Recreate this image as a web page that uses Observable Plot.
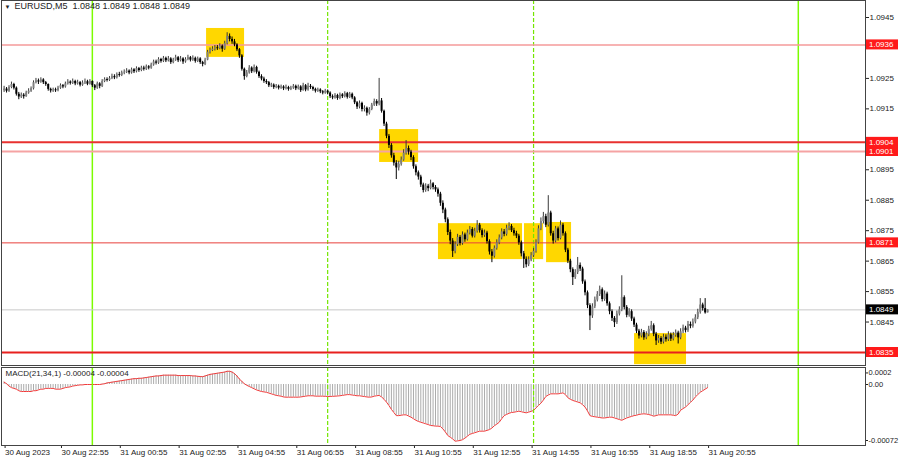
<!DOCTYPE html>
<html><head><meta charset="utf-8">
<script src="https://cdn.jsdelivr.net/npm/d3@7"></script>
<script src="https://cdn.jsdelivr.net/npm/@observablehq/plot@0.6"></script>
<style>
html,body{margin:0;padding:0;background:#fff;overflow:hidden;}
#wrap{position:relative;width:900px;height:460px;}
#main{position:absolute;left:0;top:0;}
#macd{position:absolute;left:0;top:366px;}
svg{display:block}
</style></head><body><div id="wrap"><div id="main"></div><div id="macd"></div></div>
<script>
// EURUSD M5 candles, 30 Aug 21:00 .. 31 Aug 20:55 : [open, high, low, close]
const ohlc = [
[1.09210,1.09224,1.09204,1.09215],[1.09215,1.09220,1.09202,1.09208],[1.09208,1.09226,1.09204,1.09220],[1.09220,1.09238,1.09216,1.09230],[1.09230,1.09234,1.09212,1.09218],
[1.09218,1.09222,1.09192,1.09198],[1.09198,1.09204,1.09180,1.09189],[1.09189,1.09202,1.09184,1.09195],[1.09195,1.09200,1.09182,1.09190],[1.09190,1.09208,1.09188,1.09202],
[1.09202,1.09216,1.09198,1.09208],[1.09208,1.09222,1.09204,1.09216],[1.09216,1.09242,1.09212,1.09236],[1.09236,1.09250,1.09232,1.09242],[1.09242,1.09248,1.09230,1.09238],
[1.09238,1.09252,1.09234,1.09245],[1.09245,1.09249,1.09230,1.09236],[1.09236,1.09240,1.09224,1.09230],[1.09230,1.09232,1.09208,1.09214],[1.09214,1.09218,1.09202,1.09209],
[1.09209,1.09218,1.09204,1.09212],[1.09212,1.09218,1.09204,1.09210],[1.09210,1.09224,1.09206,1.09218],[1.09218,1.09232,1.09214,1.09226],[1.09226,1.09230,1.09216,1.09222],
[1.09222,1.09238,1.09218,1.09232],[1.09232,1.09246,1.09228,1.09238],[1.09238,1.09242,1.09228,1.09234],[1.09234,1.09248,1.09230,1.09240],[1.09240,1.09244,1.09226,1.09232],
[1.09232,1.09244,1.09228,1.09236],[1.09236,1.09240,1.09222,1.09228],[1.09228,1.09242,1.09224,1.09235],[1.09235,1.09248,1.09230,1.09239],[1.09239,1.09244,1.09226,1.09231],
[1.09231,1.09246,1.09228,1.09240],[1.09240,1.09242,1.09220,1.09226],[1.09226,1.09230,1.09210,1.09218],[1.09218,1.09238,1.09214,1.09232],[1.09232,1.09236,1.09216,1.09224],
[1.09224,1.09246,1.09220,1.09240],[1.09240,1.09252,1.09236,1.09246],[1.09246,1.09252,1.09238,1.09244],[1.09244,1.09256,1.09240,1.09250],[1.09250,1.09264,1.09246,1.09256],
[1.09256,1.09262,1.09246,1.09252],[1.09252,1.09268,1.09248,1.09262],[1.09262,1.09270,1.09254,1.09260],[1.09260,1.09274,1.09256,1.09268],[1.09268,1.09278,1.09262,1.09270],
[1.09270,1.09282,1.09266,1.09274],[1.09274,1.09278,1.09262,1.09268],[1.09268,1.09284,1.09264,1.09278],[1.09278,1.09282,1.09266,1.09272],[1.09272,1.09288,1.09268,1.09282],
[1.09282,1.09286,1.09270,1.09276],[1.09276,1.09290,1.09272,1.09284],[1.09284,1.09290,1.09274,1.09280],[1.09280,1.09294,1.09276,1.09288],[1.09288,1.09292,1.09278,1.09284],
[1.09284,1.09300,1.09280,1.09294],[1.09294,1.09310,1.09290,1.09304],[1.09304,1.09310,1.09294,1.09300],[1.09300,1.09318,1.09296,1.09312],[1.09312,1.09316,1.09300,1.09306],
[1.09306,1.09322,1.09302,1.09316],[1.09316,1.09320,1.09302,1.09308],[1.09308,1.09322,1.09304,1.09314],[1.09314,1.09318,1.09296,1.09302],[1.09302,1.09316,1.09298,1.09310],
[1.09310,1.09326,1.09306,1.09318],[1.09318,1.09322,1.09302,1.09308],[1.09308,1.09322,1.09304,1.09314],[1.09314,1.09318,1.09296,1.09304],[1.09304,1.09318,1.09300,1.09312],
[1.09312,1.09326,1.09308,1.09318],[1.09318,1.09322,1.09304,1.09310],[1.09310,1.09324,1.09306,1.09316],[1.09316,1.09320,1.09300,1.09306],[1.09306,1.09320,1.09302,1.09314],
[1.09314,1.09318,1.09296,1.09302],[1.09302,1.09306,1.09288,1.09296],[1.09296,1.09316,1.09292,1.09310],[1.09310,1.09342,1.09308,1.09336],[1.09336,1.09350,1.09330,1.09342],
[1.09342,1.09354,1.09338,1.09346],[1.09346,1.09358,1.09340,1.09350],[1.09350,1.09358,1.09342,1.09348],[1.09348,1.09364,1.09344,1.09356],[1.09356,1.09360,1.09336,1.09346],
[1.09346,1.09372,1.09342,1.09364],[1.09364,1.09400,1.09360,1.09388],[1.09388,1.09396,1.09370,1.09378],[1.09378,1.09386,1.09362,1.09370],[1.09370,1.09378,1.09354,1.09360],
[1.09360,1.09364,1.09338,1.09344],[1.09344,1.09348,1.09316,1.09324],[1.09324,1.09328,1.09274,1.09280],[1.09280,1.09284,1.09244,1.09256],[1.09256,1.09276,1.09252,1.09268],
[1.09268,1.09292,1.09264,1.09284],[1.09284,1.09288,1.09266,1.09272],[1.09272,1.09294,1.09268,1.09286],[1.09286,1.09290,1.09264,1.09270],[1.09270,1.09274,1.09250,1.09256],
[1.09256,1.09262,1.09242,1.09248],[1.09248,1.09254,1.09234,1.09240],[1.09240,1.09246,1.09230,1.09236],[1.09236,1.09240,1.09220,1.09226],[1.09226,1.09234,1.09220,1.09228],
[1.09228,1.09232,1.09214,1.09220],[1.09220,1.09230,1.09216,1.09224],[1.09224,1.09228,1.09212,1.09218],[1.09218,1.09228,1.09214,1.09222],[1.09222,1.09226,1.09210,1.09216],
[1.09216,1.09228,1.09212,1.09220],[1.09220,1.09224,1.09208,1.09214],[1.09214,1.09224,1.09210,1.09218],[1.09218,1.09230,1.09214,1.09224],[1.09224,1.09228,1.09210,1.09216],
[1.09216,1.09228,1.09212,1.09222],[1.09222,1.09226,1.09204,1.09210],[1.09210,1.09234,1.09208,1.09226],[1.09226,1.09230,1.09206,1.09212],[1.09212,1.09234,1.09208,1.09224],
[1.09224,1.09230,1.09214,1.09220],[1.09220,1.09224,1.09208,1.09214],[1.09214,1.09218,1.09202,1.09208],[1.09208,1.09218,1.09204,1.09212],[1.09212,1.09216,1.09200,1.09206],
[1.09206,1.09210,1.09196,1.09202],[1.09202,1.09214,1.09198,1.09208],[1.09208,1.09212,1.09196,1.09202],[1.09202,1.09206,1.09184,1.09190],[1.09190,1.09196,1.09180,1.09186],
[1.09186,1.09200,1.09182,1.09194],[1.09194,1.09198,1.09178,1.09184],[1.09184,1.09202,1.09180,1.09196],[1.09196,1.09200,1.09184,1.09190],[1.09190,1.09206,1.09186,1.09200],
[1.09200,1.09204,1.09182,1.09188],[1.09188,1.09204,1.09184,1.09198],[1.09198,1.09202,1.09180,1.09186],[1.09186,1.09190,1.09164,1.09170],[1.09170,1.09174,1.09148,1.09156],
[1.09156,1.09176,1.09150,1.09168],[1.09168,1.09172,1.09140,1.09148],[1.09148,1.09160,1.09140,1.09152],[1.09152,1.09156,1.09126,1.09136],[1.09136,1.09154,1.09130,1.09148],
[1.09148,1.09168,1.09144,1.09162],[1.09162,1.09182,1.09158,1.09174],[1.09174,1.09180,1.09158,1.09166],[1.09166,1.09250,1.09160,1.09176],[1.09176,1.09184,1.09136,1.09142],
[1.09142,1.09146,1.09092,1.09100],[1.09100,1.09106,1.09052,1.09060],[1.09060,1.09066,1.09020,1.09030],[1.09030,1.09036,1.08988,1.08996],[1.08996,1.09004,1.08962,1.08972],
[1.08972,1.08980,1.08918,1.08956],[1.08956,1.08978,1.08946,1.08968],[1.08968,1.08992,1.08962,1.08982],[1.08982,1.09016,1.08978,1.09004],[1.09004,1.09046,1.08998,1.09020],
[1.09020,1.09028,1.08998,1.09008],[1.09008,1.09014,1.08980,1.08990],[1.08990,1.08996,1.08952,1.08960],[1.08960,1.08966,1.08930,1.08940],[1.08940,1.08946,1.08916,1.08926],
[1.08926,1.08932,1.08892,1.08900],[1.08900,1.08906,1.08874,1.08882],[1.08882,1.08904,1.08876,1.08896],[1.08896,1.08902,1.08878,1.08888],[1.08888,1.08916,1.08884,1.08904],
[1.08904,1.08908,1.08884,1.08892],[1.08892,1.08898,1.08876,1.08884],[1.08884,1.08890,1.08860,1.08870],[1.08870,1.08876,1.08830,1.08840],[1.08840,1.08848,1.08806,1.08818],
[1.08818,1.08824,1.08776,1.08786],[1.08786,1.08792,1.08734,1.08744],[1.08744,1.08752,1.08704,1.08716],[1.08716,1.08724,1.08662,1.08682],[1.08682,1.08714,1.08674,1.08704],
[1.08704,1.08738,1.08698,1.08728],[1.08728,1.08734,1.08700,1.08708],[1.08708,1.08746,1.08702,1.08736],[1.08736,1.08742,1.08712,1.08720],[1.08720,1.08752,1.08716,1.08742],
[1.08742,1.08764,1.08736,1.08754],[1.08754,1.08760,1.08726,1.08732],[1.08732,1.08758,1.08726,1.08748],[1.08748,1.08783,1.08742,1.08768],[1.08768,1.08774,1.08742,1.08750],
[1.08750,1.08756,1.08726,1.08734],[1.08734,1.08752,1.08728,1.08742],[1.08742,1.08748,1.08706,1.08714],[1.08714,1.08720,1.08670,1.08680],[1.08680,1.08688,1.08645,1.08666],
[1.08666,1.08700,1.08660,1.08692],[1.08692,1.08720,1.08686,1.08710],[1.08710,1.08736,1.08704,1.08726],[1.08726,1.08756,1.08720,1.08746],[1.08746,1.08754,1.08730,1.08738],
[1.08738,1.08768,1.08732,1.08758],[1.08758,1.08776,1.08750,1.08764],[1.08764,1.08770,1.08744,1.08750],[1.08750,1.08758,1.08732,1.08740],[1.08740,1.08748,1.08724,1.08732],
[1.08732,1.08738,1.08702,1.08710],[1.08710,1.08716,1.08664,1.08674],[1.08674,1.08682,1.08626,1.08656],[1.08656,1.08664,1.08628,1.08638],[1.08638,1.08664,1.08632,1.08654],
[1.08654,1.08678,1.08648,1.08668],[1.08668,1.08692,1.08662,1.08682],[1.08682,1.08720,1.08676,1.08710],[1.08710,1.08766,1.08706,1.08756],[1.08756,1.08792,1.08750,1.08780],
[1.08780,1.08810,1.08772,1.08796],[1.08796,1.08804,1.08760,1.08768],[1.08768,1.08865,1.08762,1.08808],[1.08808,1.08814,1.08732,1.08740],[1.08740,1.08748,1.08706,1.08716],
[1.08716,1.08764,1.08710,1.08756],[1.08756,1.08762,1.08716,1.08724],[1.08724,1.08782,1.08720,1.08768],[1.08768,1.08774,1.08732,1.08740],[1.08740,1.08746,1.08678,1.08686],
[1.08686,1.08692,1.08642,1.08650],[1.08650,1.08656,1.08612,1.08622],[1.08622,1.08628,1.08570,1.08596],[1.08596,1.08622,1.08590,1.08612],[1.08612,1.08662,1.08606,1.08636],
[1.08636,1.08644,1.08616,1.08624],[1.08624,1.08630,1.08574,1.08582],[1.08582,1.08588,1.08536,1.08546],[1.08546,1.08552,1.08494,1.08504],[1.08504,1.08510,1.08422,1.08470],
[1.08470,1.08510,1.08462,1.08500],[1.08500,1.08532,1.08494,1.08522],[1.08522,1.08550,1.08516,1.08540],[1.08540,1.08568,1.08534,1.08556],[1.08556,1.08562,1.08516,1.08524],
[1.08524,1.08552,1.08518,1.08542],[1.08542,1.08548,1.08502,1.08510],[1.08510,1.08516,1.08474,1.08484],[1.08484,1.08490,1.08452,1.08462],[1.08462,1.08468,1.08432,1.08448],
[1.08448,1.08486,1.08442,1.08476],[1.08476,1.08500,1.08470,1.08490],[1.08490,1.08602,1.08484,1.08530],[1.08530,1.08536,1.08490,1.08498],[1.08498,1.08504,1.08464,1.08472],
[1.08472,1.08494,1.08466,1.08484],[1.08484,1.08490,1.08452,1.08460],[1.08460,1.08466,1.08432,1.08440],[1.08440,1.08446,1.08412,1.08420],[1.08420,1.08426,1.08394,1.08404],
[1.08404,1.08426,1.08398,1.08416],[1.08416,1.08422,1.08390,1.08398],[1.08398,1.08418,1.08392,1.08408],[1.08408,1.08436,1.08402,1.08426],[1.08426,1.08452,1.08420,1.08438],
[1.08438,1.08444,1.08402,1.08410],[1.08410,1.08416,1.08373,1.08388],[1.08388,1.08406,1.08380,1.08396],[1.08396,1.08402,1.08376,1.08384],[1.08384,1.08410,1.08378,1.08400],
[1.08400,1.08408,1.08384,1.08392],[1.08392,1.08418,1.08386,1.08408],[1.08408,1.08414,1.08386,1.08394],[1.08394,1.08416,1.08388,1.08406],[1.08406,1.08424,1.08400,1.08414],
[1.08414,1.08420,1.08378,1.08398],[1.08398,1.08428,1.08392,1.08418],[1.08418,1.08440,1.08412,1.08430],[1.08430,1.08436,1.08414,1.08422],[1.08422,1.08452,1.08416,1.08442],
[1.08442,1.08450,1.08428,1.08436],[1.08436,1.08460,1.08430,1.08450],[1.08450,1.08474,1.08444,1.08464],[1.08464,1.08492,1.08458,1.08482],[1.08482,1.08527,1.08476,1.08506],
[1.08506,1.08512,1.08486,1.08494],[1.08494,1.08527,1.08476,1.08480],[1.08480,1.08490,1.08480,1.08490]
];

// MACD(21,34,1) per bar, in units of 0.00001
const macdPoints = [
3,1,-2,-4,-5,-6,-8,-9,-9,-9,
-9,-9,-8,-8,-7,-6,-6,-5,-5,-5,
-5,-6,-6,-6,-5,-4,-3.5,-3,-2,-1.5,
-1,-0.5,-0.5,0,0,0,0,0,0,0,
0.5,1,2,2.5,3,3.5,4,4.5,5,5.5,
6,6.5,7,7.5,7.5,8,8,8.5,9,9.5,
10,10.5,11,11,11.5,12,12,12,12,12,
12,11.5,11.5,11.5,11.5,11.5,11.5,11,11,10.5,
10.3,10,11,12,13,13.5,14,14.5,15,15.5,
16,17,17,16,14,11,7,4,1,-1,
-2.5,-4,-5.5,-7,-8,-9,-9.5,-10,-11,-12,
-13,-14,-14.5,-15,-16,-16.3,-16.3,-16.3,-16.3,-16.3,
-16.3,-16,-15.5,-15,-14.5,-14.5,-14.5,-15,-15,-15,
-15,-15.2,-15.4,-15.4,-15.2,-15,-14.8,-14.5,-14,-13.5,
-13,-13,-13.5,-14,-14.5,-14.5,-15,-15.5,-16,-16.3,
-16,-15,-14.5,-14,-16,-19,-22.7,-27,-32,-36,
-40,-40,-39.5,-39,-39,-40.5,-42,-44,-46,-47.5,
-48.5,-49.5,-50.5,-51.5,-52.7,-53,-53.5,-53.5,-54,-57,
-61,-65.6,-67.7,-70,-72.9,-72.5,-72,-71,-69,-66.5,
-64,-63,-62,-61,-60,-60,-60,-59,-58,-56,
-53,-51,-48.5,-44,-40,-38.5,-37,-36,-35.6,-35,
-34.3,-35,-35.8,-36.4,-35.5,-34.5,-33.4,-30,-27,-24,
-20,-15.4,-13.5,-12,-12,-12,-12,-11.5,-10.7,-13,
-17,-19,-20.5,-21.5,-22.5,-23.5,-26,-29,-34,-40,
-41,-41.5,-42,-42.5,-43,-43,-42.5,-42,-42,-43,
-44,-45,-46,-44.5,-43,-42,-41,-40,-39.5,-38.5,
-38,-37.7,-38,-38.6,-39.5,-40.7,-40,-39,-39,-39,
-39,-39,-39,-39.5,-40,-38,-33,-31,-29,-26,
-23,-20,-16,-13,-10,-8,-6,-4
];
const macdUnit = 0.00001;

// horizontal levels
const levelPrices = [1.0936, 1.0904, 1.0901, 1.0871, 1.0849, 1.0835];
const levelLine   = ["#f59a9a", "#e8312f", "#f5a3a3", "#e8403c", "#c8c8c8", "#e8201e"];
const levelWidth  = [1.5, 2, 2, 1, 1, 2];
const levelBox    = ["#ff1a1a", "#ff1a1a", "#ff1a1a", "#ff1a1a", "#000000", "#ff1a1a"];

// highlight rectangles (bar index from/to, price from/to)
const boxBarFrom = [82.6, 153.2, 177.2, 212.3, 221.3, 257.2];
const boxBarTo   = [98.1, 169.1, 211.5, 220.1, 231.5, 278.4];
const boxLow     = [1.09319, 1.08974, 1.08655, 1.08655, 1.08645, 1.08310];
const boxHigh    = [1.09414, 1.09082, 1.08773, 1.08773, 1.08777, 1.08412];

// vertical session lines (bar index), solid = day separators
const solidLines  = [36, 324];
const dashedLines = [132, 216];

// axis ticks (1.0935 / 1.0905 / 1.0835 sit under the level labels)
const priceTicks = [1.0945, 1.0925, 1.0915, 1.0895, 1.0885, 1.0875, 1.0865, 1.0855, 1.0845];
const timeTickBars = [0, 23, 47, 71, 95, 119, 143, 167, 191, 215, 239, 263, 287];
const timeTickLabels = ["30 Aug 2023", "30 Aug 22:55", "31 Aug 00:55", "31 Aug 02:55", "31 Aug 04:55", "31 Aug 06:55",
  "31 Aug 08:55", "31 Aug 10:55", "31 Aug 12:55", "31 Aug 14:55", "31 Aug 16:55", "31 Aug 18:55", "31 Aug 20:55"];
const macdTicks = [0, -0.00072];
const macdTickLabels = ["0.00", "-0.00072"];
const macdTopTick = 0.0002;

const symbolName = "EURUSD,M5";
const macdTitle = "MACD(21,34,1) -0.00004 -0.00004";

// ---------- build tables ----------
const bars = ohlc.map((d, i) => ({i, o: d[0], h: d[1], l: d[2], c: d[3], up: d[3] >= d[0]}));
const doji = 0.000015;
bars.forEach(b => {
  b.b1 = Math.min(b.o, b.c); b.b2 = Math.max(b.o, b.c);
  if (b.b2 - b.b1 < 2 * doji) { const m = (b.b1 + b.b2) / 2; b.b1 = m - doji; b.b2 = m + doji; }
});
const levels = levelPrices.map((p, k) => ({p, line: levelLine[k], w: levelWidth[k], box: levelBox[k]}));
const boxes = boxBarFrom.map((x1, k) => ({x1, x2: boxBarTo[k], y1: boxLow[k], y2: boxHigh[k]}));
const macd = macdPoints.map((v, i) => ({i, v: v * macdUnit}));
const last = ohlc[ohlc.length - 1];
const title = `${symbolName}  ${last.map(v => v.toFixed(4)).join(" ")}`;
const tickLabelOf = new Map(timeTickBars.map((b, k) => [b, timeTickLabels[k]]));

const FONT = "'Liberation Sans', Arial, sans-serif";
const xScale = {type: "linear", domain: [0, 287], range: [3.6, 707.1]};
const GREEN = "#7cfc00";

const greenMarks = () => [
  Plot.ruleX(solidLines, {x: d => d, stroke: GREEN, strokeWidth: 1.5}),
  Plot.ruleX(dashedLines, {x: d => d, stroke: "#74e600", strokeWidth: 1.2, strokeDasharray: "4,2"})
];

const main = Plot.plot({
  width: 900, height: 366,
  marginLeft: 1, marginRight: 35, marginTop: 0, marginBottom: 1,
  style: {fontFamily: FONT, fontSize: "8px", background: "#fff", color: "#222", overflow: "visible"},
  x: {...xScale, axis: null},
  y: {domain: [1.0835, 1.0945], range: [352, 17], axis: null},
  marks: [
    Plot.rect(boxes, {x1: "x1", x2: "x2", y1: "y1", y2: "y2", fill: "#ffd700"}),
    ...greenMarks(),
    ...[1, 1.5, 2].map(w => Plot.ruleY(levels.filter(d => d.w === w), {y: "p", stroke: d => d.line, strokeWidth: w})),
    Plot.ruleX(bars, {x: "i", y1: "l", y2: "h", stroke: d => d.up ? "#3a3a3a" : "#000", strokeWidth: 1}),
    Plot.ruleX(bars, {x: "i", y1: "b1", y2: "b2", stroke: d => d.up ? "#808080" : "#000", strokeWidth: 2}),
    Plot.axisY({anchor: "right", ticks: priceTicks, tickSize: 3, tickPadding: 1, tickFormat: d => d.toFixed(4), label: null, fontSize: 8, fill: "#222"}),
    Plot.frame({stroke: "#444"}),
    Plot.text(["▼"], {frameAnchor: "top-left", dx: 3, dy: 4, fontSize: 6, fill: "#222"}),
    Plot.text([title], {frameAnchor: "top-left", dx: 13, dy: 2.5, fontSize: 9, fill: "#222"})
  ]
});
document.getElementById("main").appendChild(main);

// price labels in the right axis, positioned with the plot's own y scale
const ys = main.scale("y");
const g = d3.select(main).append("g").attr("font-family", FONT).attr("font-size", 8).attr("text-anchor", "start");
levels.forEach(L => {
  const y = ys.apply(L.p);
  g.append("rect").attr("x", 866).attr("y", y - 5).attr("width", 32).attr("height", 10).attr("fill", L.box);
  g.append("text").attr("x", 869).attr("y", y).attr("dy", "0.35em").attr("text-anchor", "start").attr("fill", "#fff").text(L.p.toFixed(4));
});

const macdPlot = Plot.plot({
  width: 900, height: 94,
  marginLeft: 1, marginRight: 35, marginTop: 1, marginBottom: 15,
  style: {fontFamily: FONT, fontSize: "8px", background: "#fff", color: "#222", overflow: "visible"},
  x: {...xScale, axis: null},
  y: {domain: [-0.00072, 0], range: [74, 18], axis: null},
  marks: [
    Plot.ruleX(macd, {x: "i", y1: 0, y2: "v", stroke: "#ababab", strokeWidth: 1}),
    Plot.line(macd, {x: "i", y: "v", stroke: "#f03c3c", strokeWidth: 1}),
    ...greenMarks(),
    Plot.axisY({anchor: "right", ticks: macdTicks, tickSize: 2, tickPadding: 1, tickFormat: d => macdTickLabels[macdTicks.indexOf(d)], label: null, fontSize: 7.5, fill: "#222"}),
    Plot.axisY({anchor: "right", ticks: [macdTopTick], tickSize: 2, tickPadding: 1, dy: 4, tickFormat: d => d.toFixed(4), label: null, fontSize: 7.5, fill: "#222"}),
    Plot.axisX({anchor: "bottom", ticks: timeTickBars, tickSize: 3, tickPadding: 1, textAnchor: "start", dx: 1, tickFormat: d => tickLabelOf.get(d), label: null, fontSize: 8, fill: "#222"}),
    Plot.frame({stroke: "#444"}),
    Plot.text([macdTitle], {frameAnchor: "top-left", dx: 4, dy: 3, fontSize: 8, fill: "#222"})
  ]
});
document.getElementById("macd").appendChild(macdPlot);
</script>
</body></html>
